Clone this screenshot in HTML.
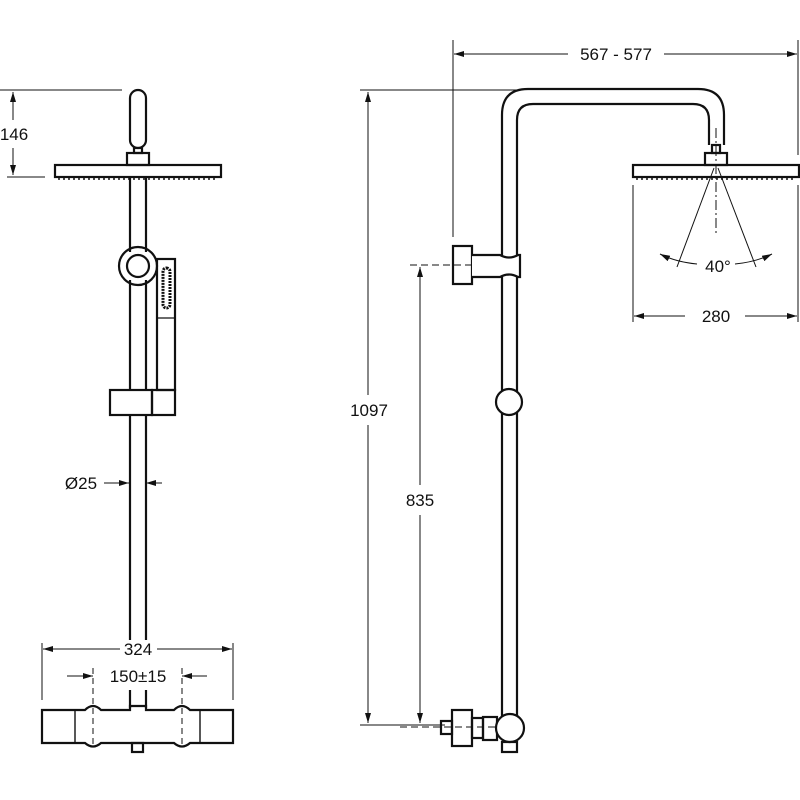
<!DOCTYPE html>
<html><head><style>body{margin:0;background:#fff}svg{display:block}text{font-family:"Liberation Sans",sans-serif;font-size:17px;fill:#111}</style></head>
<body>
<svg width="800" height="800" viewBox="0 0 800 800" xmlns="http://www.w3.org/2000/svg">
<defs>
<marker id="a" markerWidth="10" markerHeight="6" refX="10" refY="3" orient="auto-start-reverse" markerUnits="userSpaceOnUse"><path d="M0,0 L10,3 L0,6 z" fill="#111"/></marker>
</defs>
<g stroke="#111" fill="none">
<g stroke-width="1">
<line x1="0" y1="90" x2="122" y2="90"/><line x1="7" y1="177" x2="45" y2="177"/>
<line x1="13" y1="92" x2="13" y2="120" marker-start="url(#a)"/><line x1="13" y1="148" x2="13" y2="175" marker-end="url(#a)"/>
<line x1="104" y1="483" x2="129" y2="483" marker-end="url(#a)"/><line x1="162" y1="483" x2="146" y2="483" marker-end="url(#a)"/>
<line x1="42" y1="643" x2="42" y2="700"/><line x1="233" y1="643" x2="233" y2="700"/>
<line x1="43" y1="649" x2="120" y2="649" marker-start="url(#a)"/><line x1="157" y1="649" x2="232" y2="649" marker-end="url(#a)"/>
<line x1="67" y1="676" x2="93" y2="676" marker-end="url(#a)"/><line x1="207" y1="676" x2="182" y2="676" marker-end="url(#a)"/>
<line x1="93" y1="668" x2="93" y2="745" stroke-dasharray="6,4"/><line x1="182" y1="668" x2="182" y2="745" stroke-dasharray="6,4"/>
</g>
<g stroke-width="2.2">
<rect x="130" y="90" width="16" height="58" rx="8"/>
<rect x="134" y="148" width="8" height="5"/>
<rect x="127" y="153" width="22" height="12"/>
<rect x="55" y="165" width="166" height="12"/>
<line x1="130" y1="177" x2="130" y2="252"/><line x1="146" y1="177" x2="146" y2="252"/>
<circle cx="138" cy="266" r="19"/><circle cx="138" cy="266" r="11"/>
<line x1="130" y1="280" x2="130" y2="390"/><line x1="146" y1="280" x2="146" y2="390"/>
<rect x="157" y="259" width="18" height="131"/><line x1="157" y1="318" x2="175" y2="318" stroke-width="1.2"/>
<rect x="163" y="268" width="7" height="40" rx="3.5" stroke-width="3" stroke-dasharray="2,1"/>
<rect x="110" y="390" width="42" height="25"/><rect x="152" y="390" width="23" height="25"/>
<line x1="130" y1="415" x2="130" y2="640"/><line x1="146" y1="415" x2="146" y2="640"/>
<line x1="130" y1="690" x2="130" y2="708"/><line x1="146" y1="690" x2="146" y2="708"/>
<path d="M42,710 L85,710 Q93,702 101,710 L130,710 L130,706 L146,706 L146,710 L174,710 Q182,702 190,710 L233,710 L233,743 L190,743 Q182,750 174,743 L101,743 Q93,750 85,743 L42,743 Z"/>
<line x1="75" y1="710" x2="75" y2="743" stroke-width="1.4"/><line x1="200" y1="710" x2="200" y2="743" stroke-width="1.4"/>
<rect x="132" y="743" width="11" height="9"/>
</g>
<g stroke-width="1.5" stroke-dasharray="2,3"><line x1="58" y1="179" x2="218" y2="179"/><line x1="636" y1="179" x2="796" y2="179"/></g>
<g stroke-width="1">
<line x1="453" y1="40" x2="453" y2="237"/><line x1="798" y1="40" x2="798" y2="155"/>
<line x1="454" y1="54" x2="568" y2="54" marker-start="url(#a)"/><line x1="664" y1="54" x2="797" y2="54" marker-end="url(#a)"/>
<line x1="360" y1="90" x2="520" y2="90"/><line x1="360" y1="725" x2="445" y2="725"/>
<line x1="368" y1="92" x2="368" y2="395" marker-start="url(#a)"/><line x1="368" y1="425" x2="368" y2="723" marker-end="url(#a)"/>
<line x1="420" y1="267" x2="420" y2="485" marker-start="url(#a)"/><line x1="420" y1="515" x2="420" y2="723" marker-end="url(#a)"/>
<line x1="410" y1="265" x2="490" y2="265" stroke-dasharray="7,4"/>
<line x1="400" y1="727" x2="520" y2="727" stroke-dasharray="7,4"/>
<line x1="633" y1="185" x2="633" y2="322"/><line x1="798" y1="185" x2="798" y2="322"/>
<line x1="634" y1="316" x2="685" y2="316" marker-start="url(#a)"/><line x1="745" y1="316" x2="797" y2="316" marker-end="url(#a)"/>
<line x1="716" y1="128" x2="716" y2="235" stroke-dasharray="10,3,2,3"/>
<line x1="714" y1="168" x2="677" y2="267"/><line x1="718" y1="168" x2="756" y2="267"/>
<path d="M660,254 Q676,262 697,264" marker-start="url(#a)"/><path d="M772,254 Q756,262 735,264" marker-start="url(#a)"/>
</g>
<g stroke-width="2.2">
<path d="M502,725 L502,115 Q502,89 528,89 L698,89 Q724,89 724,115 L724,145"/>
<path d="M517,716 L517,120 Q517,104 533,104 L693,104 Q709,104 709,120 L709,145"/>
<rect x="712" y="145" width="8" height="8"/>
<rect x="705" y="153" width="22" height="12"/>
<rect x="633" y="165" width="166" height="12"/>
<rect x="453" y="246" width="19" height="38"/>
<path d="M472,255 L500,255 Q509,260 518,255 L520,255 L520,277 L518,277 Q509,272 500,277 L472,277" fill="#fff"/>
<circle cx="509" cy="402" r="13" fill="#fff"/>
<rect x="452" y="710" width="20" height="36"/>
<rect x="441" y="721" width="11" height="13"/>
<rect x="472" y="718" width="11" height="20"/>
<rect x="483" y="717" width="14" height="23"/>
<circle cx="510" cy="728" r="14" fill="#fff"/>
<rect x="502" y="742" width="15" height="10"/>
</g>
</g>
<text x="14" y="140" text-anchor="middle">146</text>
<text x="81" y="489" text-anchor="middle">Ø25</text>
<text x="138" y="655" text-anchor="middle">324</text>
<text x="138" y="682" text-anchor="middle">150±15</text>
<text x="616" y="60" text-anchor="middle">567 - 577</text>
<text x="369" y="416" text-anchor="middle">1097</text>
<text x="420" y="506" text-anchor="middle">835</text>
<text x="718" y="272" text-anchor="middle">40°</text>
<text x="716" y="322" text-anchor="middle">280</text>
</svg>
</body></html>
